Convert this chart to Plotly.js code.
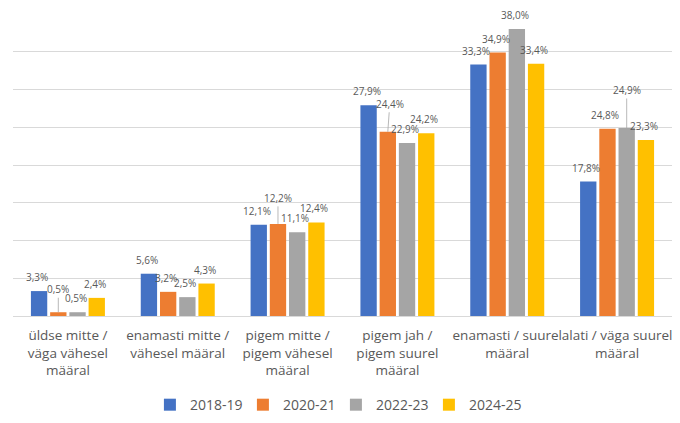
<!DOCTYPE html>
<html><head><meta charset="utf-8">
<script src="https://cdn.plot.ly/plotly-3.0.1.min.js"></script>
<style>html,body{margin:0;padding:0;background:#fff}#chart{width:680px;height:423px}</style>
</head><body><div id="chart"></div>
<script>
// ---- data ----
const categories = [
  'üldse mitte /<br>väga vähesel<br>määral',
  'enamasti mitte /<br>vähesel määral',
  'pigem mitte /<br>pigem vähesel<br>määral',
  'pigem jah /<br>pigem suurel<br>määral',
  'enamasti / suurel<br>määral',
  'alati / väga suurel<br>määral'
];
const seriesNames = ['2018-19', '2020-21', '2022-23', '2024-25'];
const values2018 = [3.3, 5.6, 12.1, 27.9, 33.3, 17.8];
const values2020 = [0.5, 3.2, 12.2, 24.4, 34.9, 24.8];
const values2022 = [0.5, 2.5, 11.1, 22.9, 38.0, 24.9];
const values2024 = [2.4, 4.3, 12.4, 24.2, 33.4, 23.3];

// ---- style ----
const seriesValues = [values2018, values2020, values2022, values2024];
const colors = ['#4472C4', '#ED7D31', '#A5A5A5', '#FFC000'];
const W = 680, H = 423;
const margin = {l: 13, r: 8, t: 14, b: 107, autoexpand: false};
const bargap = 0.3, bargroupgap = 0.15;
const plotW = W - margin.l - margin.r;
const slot = plotW / categories.length * (1 - bargap) / seriesValues.length;
const FONT = '"Open Sans", Lato, sans-serif';
// label offsets (px) for labels with leader lines: [dx, dy]
const labelOffsets = {
  '1-0': [0, 23],
  '1-2': [0, 26],
  '1-3': [2, 28],
  '2-5': [0, 38]
};
const fmt = v => v.toFixed(1).replace('.', ',') + '%';

const traces = seriesValues.map((vals, s) => ({
  type: 'bar',
  name: seriesNames[s],
  x: categories,
  y: vals,
  marker: {color: colors[s]},
  hoverinfo: 'skip'
}));

const annotations = [];
seriesValues.forEach((vals, s) => {
  vals.forEach((v, i) => {
    const off = labelOffsets[s + '-' + i];
    const baseShift = (s - (seriesValues.length - 1) / 2) * slot;
    if (off) {
      annotations.push({
        xref: 'x', yref: 'y', x: categories[i], y: v,
        xshift: baseShift,
        text: fmt(v), showarrow: true, arrowhead: 0, arrowwidth: 0.8,
        arrowcolor: '#a6a6a6', ax: off[0], ay: -off[1], standoff: 0,
        font: {family: FONT, size: 10, color: '#595959'}
      });
    } else {
      annotations.push({
        xref: 'x', yref: 'y', x: categories[i], y: v,
        xshift: baseShift - 2, yshift: 14, yanchor: 'middle',
        text: fmt(v), showarrow: false,
        font: {family: FONT, size: 10, color: '#595959'}
      });
    }
  });
});

const layout = {
  width: W, height: H,
  margin: margin,
  paper_bgcolor: '#fff', plot_bgcolor: '#fff',
  barmode: 'group', bargap: bargap, bargroupgap: bargroupgap,
  font: {family: FONT, color: '#595959', size: 14},
  xaxis: {
    type: 'category', showline: true, linecolor: '#d9d9d9', linewidth: 1,
    ticks: '', showgrid: false, automargin: false, ticklabelstandoff: 7,
    tickangle: 0,
    tickfont: {family: FONT, size: 13.5, color: '#595959'},
    fixedrange: true
  },
  yaxis: {
    range: [0, 40], dtick: 5, showticklabels: false, gridcolor: '#d9d9d9',
    gridwidth: 1, zeroline: false, fixedrange: true, automargin: false
  },
  showlegend: true,
  legend: {
    orientation: 'h', x: 0.49, xanchor: 'center', y: -0.295, yanchor: 'middle',
    font: {family: FONT, size: 14, color: '#595959'}, traceorder: 'normal',
    itemwidth: 30, entrywidth: 48, entrywidthmode: 'pixels'
  },
  annotations: annotations
};

Plotly.newPlot('chart', traces, layout, {displayModeBar: false, staticPlot: true});
</script>
</body></html>
